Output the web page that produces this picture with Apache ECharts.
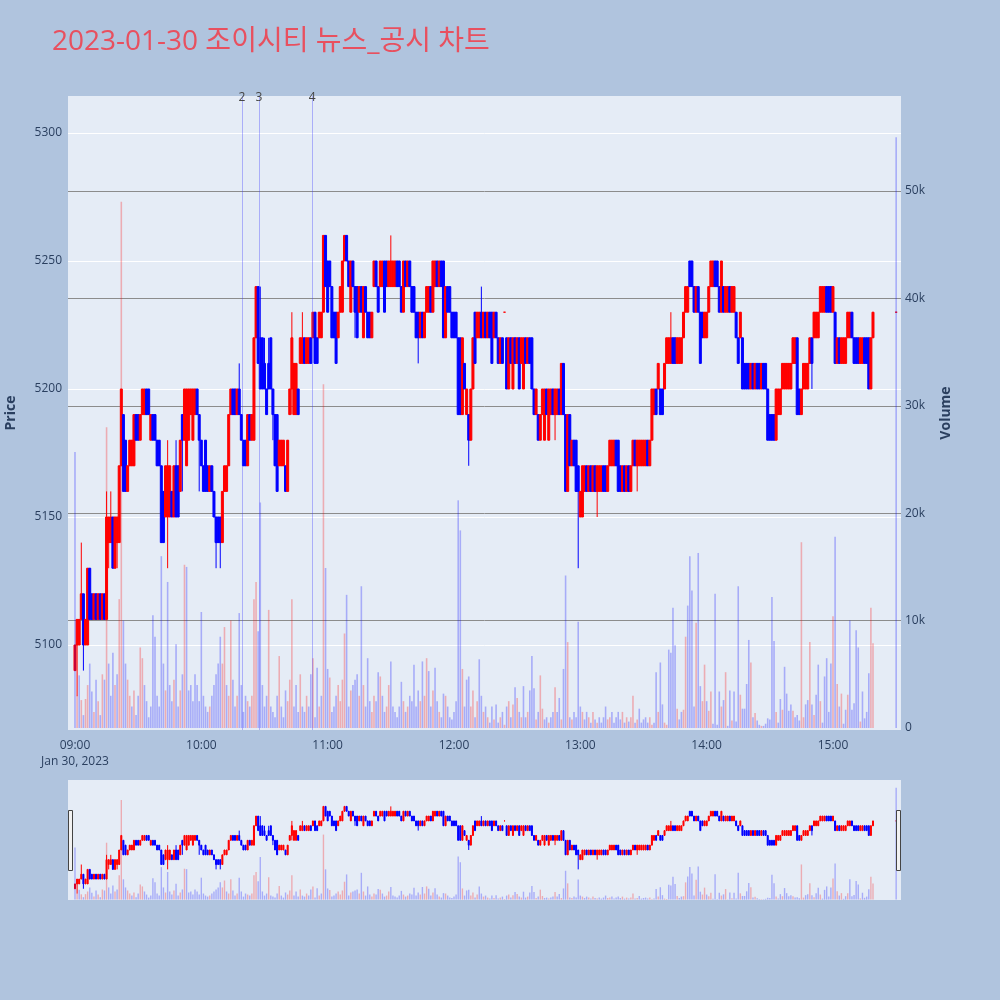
<!DOCTYPE html>
<html><head><meta charset="utf-8">
<script src="https://cdn.jsdelivr.net/npm/echarts@6/dist/echarts.min.js"></script>
<style>html,body{margin:0;padding:0;background:#b0c4de;}#chart{width:1000px;height:1000px;}</style>
</head><body><div id="chart"></div>
<script>
const chartTitle = '2023-01-30 조이시티 뉴스_공시 차트';
const dateLabel = 'Jan 30, 2023';
const hourTicks = [0, 60, 120, 180, 240, 300, 360]; // minutes after 09:00
const priceTicks = [5100, 5150, 5200, 5250, 5300];
const volumeTicks = [0, 10000, 20000, 30000, 40000, 50000];

// one candle per minute from 09:00 (index = minutes after 09:00)
const opens = [
5090,5100,5100,5110,5120,5100,5100,5130,5120,5110,
5120,5110,5120,5110,5120,5110,5140,5140,5150,5130,
5140,5140,5170,5190,5180,5160,5170,5170,5170,5190,
5190,5180,5190,5190,5200,5200,5180,5190,5190,5180,
5180,5170,5160,5150,5150,5150,5160,5150,5170,5170,
5160,5190,5180,5170,5180,5190,5180,5190,5200,5190,
5180,5170,5180,5170,5160,5170,5160,5150,5150,5150,
5140,5160,5160,5170,5190,5200,5200,5190,5200,5190,
5180,5180,5170,5190,5180,5180,5220,5240,5220,5220,
5210,5200,5210,5220,5200,5190,5190,5170,5170,5170,
5170,5160,5190,5200,5190,5190,5200,5210,5210,5220,
5210,5210,5220,5220,5230,5220,5220,5220,5230,5260,
5250,5250,5240,5230,5230,5220,5230,5230,5250,5260,
5250,5230,5250,5240,5240,5230,5240,5220,5240,5230,
5230,5220,5240,5250,5240,5240,5240,5250,5250,5240,
5240,5240,5240,5250,5250,5240,5230,5250,5240,5250,
5240,5240,5230,5230,5220,5230,5220,5230,5230,5240,
5230,5240,5250,5240,5250,5250,5220,5240,5240,5230,
5230,5230,5220,5220,5190,5210,5190,5190,5180,5200,
5230,5220,5220,5230,5220,5230,5220,5230,5230,5220,
5230,5220,5210,5220,5230,5220,5200,5220,5200,5220,
5210,5220,5210,5200,5220,5210,5220,5220,5200,5190,
5190,5180,5190,5180,5200,5180,5190,5200,5190,5190,
5200,5190,5210,5190,5160,5190,5170,5180,5180,5170,
5150,5150,5160,5170,5160,5170,5160,5170,5160,5160,
5160,5170,5170,5160,5170,5170,5170,5180,5180,5170,
5160,5170,5160,5170,5160,5170,5180,5170,5170,5170,
5170,5170,5180,5170,5180,5190,5200,5200,5200,5200,
5200,5210,5210,5210,5220,5220,5210,5210,5210,5220,
5230,5230,5250,5250,5240,5230,5240,5230,5230,5220,
5220,5230,5240,5240,5250,5250,5240,5230,5240,5230,
5230,5240,5230,5230,5230,5220,5220,5220,5210,5210,
5210,5200,5210,5200,5210,5210,5200,5210,5210,5200,
5190,5190,5190,5180,5190,5190,5200,5200,5200,5200,
5200,5210,5210,5220,5200,5190,5200,5200,5200,5210,
5220,5220,5220,5220,5230,5230,5230,5240,5240,5240,
5230,5230,5210,5220,5210,5210,5210,5220,5220,5230,
5220,5220,5220,5210,5210,5220,5220,5220,5200,5220
];
const closes = [
5100,5110,5110,5120,5100,5110,5130,5110,5110,5120,
5110,5120,5110,5120,5110,5150,5150,5150,5130,5150,
5150,5170,5200,5160,5160,5170,5180,5180,5190,5180,
5180,5190,5200,5200,5190,5190,5190,5180,5180,5170,
5170,5140,5140,5170,5170,5170,5150,5170,5150,5150,
5180,5180,5200,5200,5200,5200,5200,5200,5190,5180,
5170,5160,5160,5160,5170,5160,5150,5140,5140,5140,
5160,5170,5170,5190,5200,5190,5190,5200,5190,5180,
5170,5170,5190,5180,5190,5220,5240,5210,5200,5200,
5200,5190,5200,5200,5190,5170,5160,5180,5180,5180,
5160,5180,5200,5220,5210,5210,5190,5220,5220,5210,
5220,5220,5210,5230,5210,5210,5230,5230,5260,5240,
5230,5240,5220,5220,5210,5230,5240,5250,5260,5250,
5240,5250,5240,5230,5220,5240,5230,5240,5230,5220,
5220,5230,5250,5240,5230,5250,5250,5230,5240,5250,
5250,5250,5250,5240,5240,5230,5250,5240,5250,5240,
5230,5230,5220,5220,5230,5220,5230,5240,5240,5230,
5250,5250,5240,5250,5240,5220,5240,5230,5230,5220,
5220,5220,5190,5190,5220,5200,5200,5180,5200,5220,
5210,5230,5230,5220,5230,5220,5230,5220,5210,5230,
5220,5210,5220,5210,5230,5200,5220,5210,5220,5210,
5220,5200,5220,5220,5210,5220,5210,5200,5190,5200,
5180,5190,5200,5200,5190,5200,5200,5190,5200,5200,
5190,5210,5190,5160,5190,5170,5180,5170,5160,5160,
5160,5170,5170,5160,5170,5160,5170,5160,5170,5170,
5170,5160,5160,5170,5180,5180,5180,5170,5160,5160,
5170,5160,5170,5160,5170,5180,5170,5180,5180,5180,
5180,5180,5170,5180,5200,5200,5190,5210,5190,5190,
5210,5220,5220,5220,5210,5210,5220,5220,5220,5230,
5240,5240,5240,5240,5230,5240,5230,5210,5220,5230,
5230,5240,5250,5250,5240,5240,5230,5250,5230,5240,
5240,5230,5240,5240,5220,5210,5230,5200,5200,5200,
5200,5210,5200,5210,5200,5200,5210,5200,5200,5180,
5180,5180,5180,5200,5200,5200,5210,5210,5210,5210,
5210,5220,5220,5190,5190,5200,5210,5210,5210,5220,
5210,5230,5230,5230,5240,5240,5240,5230,5230,5230,
5240,5210,5220,5210,5220,5220,5220,5230,5230,5220,
5210,5210,5210,5220,5220,5210,5210,5200,5220,5230
];
// wick extremes beyond the body, keyed by minute index
const highWicks = {3:5140, 15:5160, 17:5160, 44:5180, 48:5180, 78:5210, 88:5240, 90:5220, 92:5220, 103:5230, 108:5230, 150:5260, 193:5240, 283:5230};
const lowWicks = {1:5080, 4:5090, 16:5130, 20:5130, 44:5130, 51:5160, 59:5160, 67:5130, 69:5130, 94:5180, 103:5190, 133:5220, 163:5210, 187:5170, 228:5180, 239:5130, 248:5150, 267:5160, 350:5200};
const volumes = [
25700,3000,4900,2600,1200,2700,4000,6000,3400,1500,
4500,2500,1200,5000,4500,28000,6000,3000,7000,4000,
5000,12000,49000,10000,6000,4500,3000,2000,3500,1200,
3000,7500,6500,4000,2500,1000,2000,10500,8500,3000,
2000,16000,6000,3500,13600,4000,2500,4500,7800,2000,
3500,5000,15200,15000,3500,4000,2500,5000,4000,2500,
10800,3000,2000,1500,2000,3000,4000,5000,6000,8500,
6000,9400,4000,3000,10000,4500,2000,3000,10700,4000,
1500,3000,2500,2000,3000,12000,13600,9000,21000,4000,
2000,3000,11000,2000,1500,1000,3000,6700,2000,1000,
3500,2500,4500,12000,2000,4000,1500,5000,2000,1500,
3000,2000,5000,6500,1000,5600,2000,3000,32000,14900,
5500,4700,1500,2000,3000,4000,2500,4500,8800,12400,
2000,3500,4000,4500,5000,3000,13200,4000,2000,6500,
2500,1500,3000,2500,5200,4800,3000,1500,2000,4000,
6200,2000,1500,1000,2000,4300,2500,1500,2000,3000,
2500,5900,2000,3500,2500,6200,3000,6500,5300,2000,
3500,5600,2500,1500,1000,3200,3000,2000,1000,800,
1500,2500,21200,18400,5500,2000,4500,4800,2000,3500,
1000,2500,6400,3000,1500,2000,1000,500,2000,800,
2200,500,1000,1500,300,2000,2500,1000,2200,3800,
2800,1500,1000,3900,1000,1500,3500,6700,3700,800,
1500,4900,1800,800,1000,500,1000,1500,3800,1500,
2800,800,5500,14200,8000,1000,800,1500,1000,9900,
2000,1500,800,1500,1000,500,1500,800,500,1000,
500,1000,2000,800,1000,1500,500,1000,1500,800,
1500,500,1000,600,1000,3000,500,800,1800,500,
800,1000,500,1000,300,500,5200,1500,6100,2200,
500,300,7300,7000,11200,7700,1800,800,1500,1700,
8500,11400,16000,12800,2000,9800,16300,3900,2500,5900,
2500,1600,3400,400,12500,300,3400,2000,2600,5200,
200,3500,700,3400,600,13200,3100,1800,1800,4100,
8200,6100,1000,1400,700,300,200,200,400,900,
800,12200,8100,1500,500,2700,1700,5700,3200,1600,
2200,1600,1000,1200,700,17300,1000,2200,2600,8000,
2200,1200,3100,5900,2500,500,4800,6500,1500,6000,
10400,17800,4100,2000,3200,400,1700,3100,10000,1700,
2300,9100,7500,600,3400,900,1500,5100,11200,7900
];
// closing auction print at 15:30
const closingAuction = {minute: 390, open: 5230, close: 5230, low: 5230, high: 5230, volume: 55000};
// news / disclosure markers (minutes after 09:00)
const newsMarks = [{label: '2', minute: 79.3}, {label: '3', minute: 87.4}, {label: '4', minute: 112.6}];

const UP = '#ff0000', DOWN = '#0000ff';
const VOL_UP = 'rgba(255,0,0,0.27)', VOL_DOWN = 'rgba(0,0,255,0.27)';
const candleData = [];   // [minute, open, close, low, high, direction]
const volData = [];
function candleRow(x, o, c, l, h, prevClose) {
  const up = c > o || (c === o && (prevClose === undefined || c >= prevClose));
  return [x, o, c, l, h, up ? 1 : -1];
}
opens.forEach((o, i) => {
  const c = closes[i];
  const h = Math.max(o, c, highWicks[i] !== undefined ? highWicks[i] : -Infinity);
  const l = Math.min(o, c, lowWicks[i] !== undefined ? lowWicks[i] : Infinity);
  candleData.push(candleRow(i, o, c, l, h, i > 0 ? closes[i - 1] : undefined));
  const up = i > 0 && c > closes[i - 1];
  volData.push({value: [i, volumes[i]], itemStyle: {color: up ? VOL_UP : VOL_DOWN}});
});
{
  const a = closingAuction;
  const prev = closes[closes.length - 1];
  candleData.push(candleRow(a.minute, a.open, a.close, a.low, a.high, prev));
  volData.push({value: [a.minute, a.volume], itemStyle: {color: a.close > prev ? VOL_UP : VOL_DOWN}});
}

function makeCandleRenderer(bodyW) {
  return function (params, api) {
    const x = api.value(0), o = api.value(1), c = api.value(2), l = api.value(3), h = api.value(4);
    const col = api.value(5) > 0 ? UP : DOWN;
    const pO = api.coord([x, o]), pC = api.coord([x, c]);
    const pL = api.coord([x, l]), pH = api.coord([x, h]);
    const top = Math.min(pO[1], pC[1]), bot = Math.max(pO[1], pC[1]);
    return {
      type: 'group',
      children: [
        {type: 'line', shape: {x1: pL[0], y1: pL[1], x2: pH[0], y2: pH[1]}, style: {stroke: col, lineWidth: 1}},
        {type: 'rect', shape: {x: pO[0] - bodyW / 2, y: top, width: bodyW, height: bot - top},
          style: {fill: col, stroke: col, lineWidth: 1}}
      ]
    };
  };
}

const FONT = "'Open Sans', 'Noto Sans CJK KR', sans-serif";
const TXT = '#2a3f5f';
const X_MIN = -3.32, X_MAX = 392.3;
const P_MIN = 5066.8, P_MAX = 5314.45;
const V_MIN = -186, V_MAX = 58850;
const pad = n => (n < 10 ? '0' : '') + n;
const fmtTime = v => pad(9 + Math.floor(v / 60)) + ':' + pad(v % 60);

const chart = echarts.init(document.getElementById('chart'), null, {renderer: 'canvas'});
chart.setOption({
  animation: false,
  backgroundColor: '#b0c4de',
  textStyle: {fontFamily: FONT},
  title: {
    text: chartTitle, left: 47, top: 23,
    textStyle: {fontSize: 28, fontWeight: 'normal', color: '#e8505f', fontFamily: FONT}
  },
  grid: [
    {left: 68, top: 96, width: 833, height: 634, show: true, backgroundColor: '#e5ecf6', borderWidth: 0, outerBoundsMode: 'none', containLabel: false},
    {left: 68, top: 780, width: 833, height: 120, show: true, backgroundColor: '#e5ecf6', borderWidth: 0, outerBoundsMode: 'none', containLabel: false}
  ],
  xAxis: [
    {
      type: 'value', gridIndex: 0, min: X_MIN, max: X_MAX,
      axisLine: {show: false}, axisTick: {show: false, customValues: hourTicks}, splitLine: {show: false},
      axisLabel: {
        customValues: hourTicks, color: TXT, fontSize: 12, margin: 8, lineHeight: 16,
        formatter: v => v === 0 ? fmtTime(v) + '\n' + dateLabel : fmtTime(v)
      }
    },
    {
      type: 'value', gridIndex: 1, min: X_MIN, max: X_MAX,
      axisLine: {show: false}, axisTick: {show: false}, splitLine: {show: false}, axisLabel: {show: false}
    }
  ],
  yAxis: [
    {
      type: 'value', gridIndex: 0, position: 'left', min: P_MIN, max: P_MAX,
      name: 'Price', nameLocation: 'middle', nameGap: 50, nameRotate: 90,
      nameTextStyle: {fontSize: 14, fontWeight: 'bold', color: TXT},
      axisLine: {show: false}, axisTick: {show: false, customValues: priceTicks},
      axisLabel: {customValues: priceTicks, color: TXT, fontSize: 12, margin: 6, formatter: v => String(v)},
      splitLine: {show: true, lineStyle: {color: '#ffffff', width: 1}}
    },
    {
      type: 'value', gridIndex: 0, position: 'right', min: V_MIN, max: V_MAX,
      name: 'Volume', nameLocation: 'middle', nameGap: 38, nameRotate: 90,
      nameTextStyle: {fontSize: 14, fontWeight: 'bold', color: TXT},
      axisLine: {show: false}, axisTick: {show: false, customValues: volumeTicks.filter(v => v > 0)},
      axisLabel: {customValues: volumeTicks, color: TXT, fontSize: 12, margin: 4,
        formatter: v => v === 0 ? '0' : (v / 1000) + 'k'},
      splitLine: {show: true, lineStyle: {color: '#8c8c8c', width: 1}}
    },
    {
      type: 'value', gridIndex: 1, min: P_MIN, max: P_MAX,
      axisLine: {show: false}, axisTick: {show: false}, axisLabel: {show: false}, splitLine: {show: false}
    },
    {
      type: 'value', gridIndex: 1, min: V_MIN, max: V_MAX,
      axisLine: {show: false}, axisTick: {show: false}, axisLabel: {show: false}, splitLine: {show: false}
    }
  ],
  series: [
    {
      type: 'custom', name: 'candles', xAxisIndex: 0, yAxisIndex: 0, data: candleData,
      encode: {x: 0, y: [1, 2, 3, 4]}, renderItem: makeCandleRenderer(2), z: 2,
      markLine: {
        silent: true, symbol: 'none',
        lineStyle: {color: 'rgba(60,60,255,0.35)', width: 1, type: 'solid'},
        label: {show: true, position: 'end', formatter: p => p.name, color: '#444', fontSize: 12, distance: -8},
        data: newsMarks.map(m => ({name: m.label, xAxis: m.minute}))
      }
    },
    {
      type: 'bar', xAxisIndex: 0, yAxisIndex: 1, data: volData, barWidth: 1.6, z: 3
    },
    {
      type: 'custom', name: 'miniCandles', xAxisIndex: 1, yAxisIndex: 2, data: candleData,
      encode: {x: 0, y: [1, 2, 3, 4]}, renderItem: makeCandleRenderer(1), z: 2
    },
    {
      type: 'bar', xAxisIndex: 1, yAxisIndex: 3, data: volData, barWidth: 1.4, z: 3
    }
  ],
  graphic: [
    {type: 'rect', shape: {x: 68.5, y: 810.5, width: 4, height: 60}, style: {fill: '#f2f2f2', stroke: '#444', lineWidth: 1}, z: 10},
    {type: 'rect', shape: {x: 896.5, y: 810.5, width: 4, height: 60}, style: {fill: '#f2f2f2', stroke: '#444', lineWidth: 1}, z: 10}
  ]
});
</script>
</body></html>
